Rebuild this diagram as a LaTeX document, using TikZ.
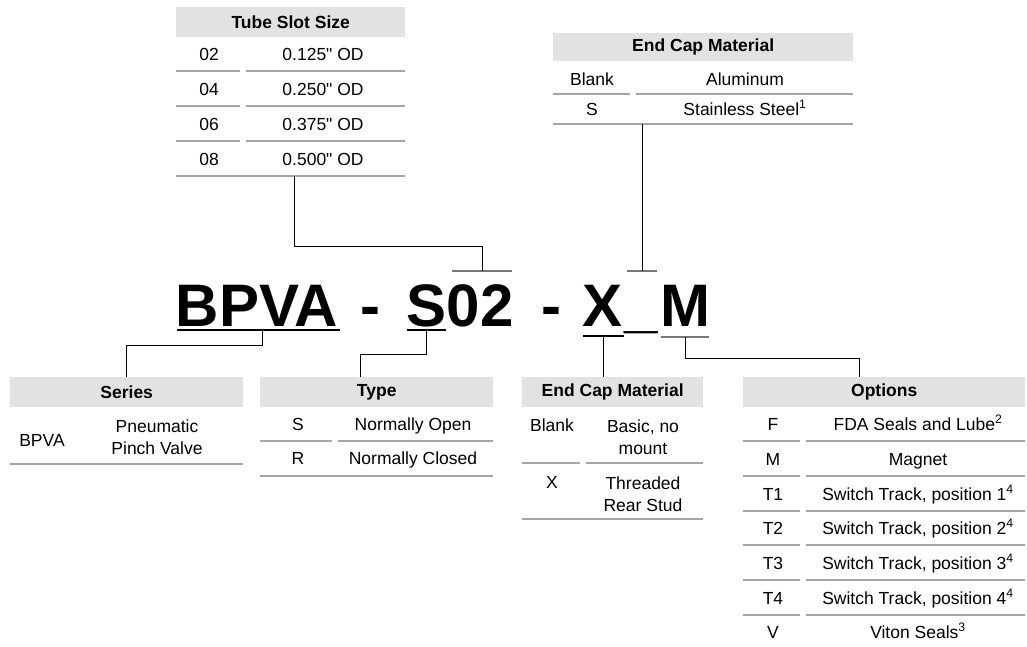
\documentclass[tikz,border=0pt]{standalone}
\usepackage{fontspec}
\setmainfont{Liberation Sans}

\definecolor{headgray}{RGB}{226,226,226}
\definecolor{rulegray}{RGB}{165,165,165}
\definecolor{bargray}{RGB}{120,120,120}

\tikzset{
  tabhead/.style={anchor=north west, fill=headgray, inner sep=0pt, minimum height=30pt,
    font=\fontsize{17.5}{21}\selectfont\bfseries},
  tabcell/.style={inner sep=0pt, text height=12.5pt, text depth=0pt,
    font=\fontsize{17.5}{21}\selectfont},
  tabcellii/.style={inner sep=0pt, align=center, font=\fontsize{17.5}{22.5}\selectfont},
  rowrule/.style={draw=rulegray, line width=1.3pt},
  leadline/.style={draw=black, line width=0.9pt},
  codebar/.style={line width=1.3pt},
  codetext/.style={anchor=base, inner sep=0pt, font=\fontsize{60}{70}\selectfont\bfseries},
}

\begin{document}
\begin{tikzpicture}[x=1pt,y=-1pt]
  \useasboundingbox (0,0) rectangle (1027,646);

  % tube slot size
  \node[tabhead, minimum width=229pt] (tubeHead) at (176,7) {Tube Slot Size};
  \node[tabcell] (tube02) at (209,54) {02};
  \node[tabcell] (tubeOD02) at (323,54) {0.125\textquotedbl{} OD};
  \node[tabcell] (tube04) at (209,89) {04};
  \node[tabcell] (tubeOD04) at (323,89) {0.250\textquotedbl{} OD};
  \node[tabcell] (tube06) at (209,124) {06};
  \node[tabcell] (tubeOD06) at (323,124) {0.375\textquotedbl{} OD};
  \node[tabcell] (tube08) at (209,159) {08};
  \node[tabcell] (tubeOD08) at (323,159) {0.500\textquotedbl{} OD};
  \draw[rowrule] (176,71) -- (240,71);   \draw[rowrule] (246,71) -- (405,71);
  \draw[rowrule] (176,106) -- (240,106); \draw[rowrule] (246,106) -- (405,106);
  \draw[rowrule] (176,141) -- (240,141); \draw[rowrule] (246,141) -- (405,141);
  \draw[rowrule] (176,176) -- (405,176);

  % end cap material, top
  \node[tabhead, minimum width=300pt, minimum height=28pt] (capTopHead) at (553,33) {End Cap Material};
  \node[tabcell] (capTopBlank) at (592,79) {Blank};
  \node[tabcell] (capTopAlu) at (745,79) {Aluminum};
  \node[tabcell] (capTopS) at (592,109) {S};
  \node[tabcell] (capTopSS) at (745,109) {Stainless Steel\textsuperscript{1}};
  \draw[rowrule] (553,94) -- (630,94); \draw[rowrule] (636,94) -- (853,94);
  \draw[rowrule] (553,124) -- (853,124);

  % part number
  \node[codetext] (codeSeries) at (257,326) {BPVA};
  \node[codetext] (dashA) at (370,326) {-};
  \node[codetext] (codeType) at (460,326) {S02};
  \node[codetext] (dashB) at (551,326) {-};
  \node[codetext] (codeCap) at (603,326) {X};
  \node[codetext] (codeSep) at (641,326) {\_};
  \node[codetext] (codeOpt) at (685,326) {M};

  \coordinate (tubeFoot) at (294,176);
  \coordinate (tubeBar) at (482,271);
  \coordinate (tubeBarL) at (452,271);
  \coordinate (tubeBarR) at (512,271);
  \coordinate (capTopFoot) at (642,124);
  \coordinate (capTopBar) at (642,271);
  \coordinate (capTopBarL) at (627,271);
  \coordinate (capTopBarR) at (657,271);

  \coordinate (seriesBar) at (262,330);
  \coordinate (seriesBarL) at (177,330);
  \coordinate (seriesBarR) at (340,330);
  \coordinate (typeBar) at (426,330);
  \coordinate (typeBarL) at (407,330);
  \coordinate (typeBarR) at (446,330);
  \coordinate (capBar) at (603,336);
  \coordinate (capBarL) at (583,336);
  \coordinate (capBarR) at (624,336);
  \coordinate (optBar) at (685,337);
  \coordinate (optBarL) at (661,337);
  \coordinate (optBarR) at (709,337);
  \coordinate (typeTop) at (360,377);
  \coordinate (capTop) at (603,377);
  \coordinate (optTop) at (859,377);

  \draw[codebar, bargray] (tubeBarL) -- (tubeBarR);
  \draw[codebar, bargray] (capTopBarL) -- (capTopBarR);
  \draw[codebar] (seriesBarL) -- (seriesBarR);
  \draw[codebar] (typeBarL) -- (typeBarR);
  \draw[codebar] (capBarL) -- (capBarR);
  \draw[codebar, bargray] (optBarL) -- (optBarR);

  \draw[leadline] (tubeFoot) -- ++(0,70) -| (tubeBar);
  \draw[leadline] (capTopFoot) -- (capTopBar);

  % series
  \node[tabhead, minimum width=233pt] (seriesHead) at (10,377) {Series};
  \node[tabcell] (seriesBPVA) at (42,440) {BPVA};
  \node[tabcellii] (seriesPPV) at (157,437) {Pneumatic\\Pinch Valve};
  \draw[rowrule] (10,464) -- (243,464);

  % type
  \node[tabhead, minimum width=233pt] (typeHead) at (260,377) {Type};
  \node[tabcell] (typeS) at (298,424) {S};
  \node[tabcell] (typeNO) at (413,424) {Normally Open};
  \node[tabcell] (typeR) at (298,458) {R};
  \node[tabcell] (typeNC) at (413,458) {Normally Closed};
  \draw[rowrule] (260,441) -- (332,441); \draw[rowrule] (338,441) -- (493,441);
  \draw[rowrule] (260,476) -- (493,476);

  % end cap material, bottom
  \node[tabhead, minimum width=181pt] (capHead) at (522,377) {End Cap Material};
  \node[tabcell] (capBlank) at (552,425) {Blank};
  \node[tabcellii] (capBasic) at (643,437) {Basic, no\\mount};
  \node[tabcell] (capX) at (552,482) {X};
  \node[tabcellii] (capStud) at (643,494) {Threaded\\Rear Stud};
  \draw[rowrule] (522,463) -- (580,463); \draw[rowrule] (586,463) -- (703,463);
  \draw[rowrule] (522,519) -- (703,519);

  % options
  \node[tabhead, minimum width=282pt] (optHead) at (743,377) {Options};
  \node[tabcell] (optF) at (773,424) {F};
  \node[tabcell] (optFDA) at (918,424) {FDA Seals and Lube\textsuperscript{2}};
  \node[tabcell] (optM) at (773,459) {M};
  \node[tabcell] (optMag) at (918,459) {Magnet};
  \node[tabcell] (optT1) at (773,494) {T1};
  \node[tabcell] (optST1) at (918,494) {Switch Track, position 1\textsuperscript{4}};
  \node[tabcell] (optT2) at (773,528) {T2};
  \node[tabcell] (optST2) at (918,528) {Switch Track, position 2\textsuperscript{4}};
  \node[tabcell] (optT3) at (773,563) {T3};
  \node[tabcell] (optST3) at (918,563) {Switch Track, position 3\textsuperscript{4}};
  \node[tabcell] (optT4) at (773,598) {T4};
  \node[tabcell] (optST4) at (918,598) {Switch Track, position 4\textsuperscript{4}};
  \node[tabcell] (optV) at (773,632) {V};
  \node[tabcell] (optViton) at (918,632) {Viton Seals\textsuperscript{3}};
  \draw[rowrule] (743,441) -- (800,441); \draw[rowrule] (806,441) -- (1025,441);
  \draw[rowrule] (743,476) -- (800,476); \draw[rowrule] (806,476) -- (1025,476);
  \draw[rowrule] (743,511) -- (800,511); \draw[rowrule] (806,511) -- (1025,511);
  \draw[rowrule] (743,545) -- (800,545); \draw[rowrule] (806,545) -- (1025,545);
  \draw[rowrule] (743,580) -- (800,580); \draw[rowrule] (806,580) -- (1025,580);
  \draw[rowrule] (743,615) -- (800,615); \draw[rowrule] (806,615) -- (1025,615);

  % leads down to the tables
  \draw[leadline] (seriesBar) -- ++(0,15) -| (seriesHead.north);
  \draw[leadline] (typeBar) -- ++(0,24) -| (typeTop);
  \draw[leadline] (capBar) -- (capTop);
  \draw[leadline] (optBar) -- ++(0,21) -| (optTop);
\end{tikzpicture}
\end{document}
